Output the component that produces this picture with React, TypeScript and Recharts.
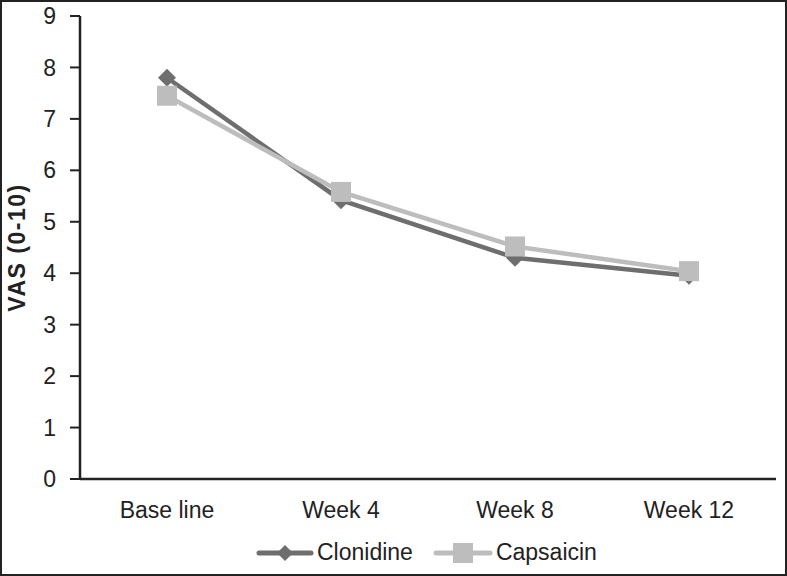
import React from "react";
import { LineChart, Line, XAxis, YAxis, Legend } from "recharts";

const categories = ["Base line", "Week 4", "Week 8", "Week 12"];
const clonidine = [7.8, 5.42, 4.3, 3.95];
const capsaicin = [7.45, 5.58, 4.52, 4.04];
const yTicks = [0, 1, 2, 3, 4, 5, 6, 7, 8, 9];

const data = categories.map((c, i) => ({ name: c, clonidine: clonidine[i], capsaicin: capsaicin[i] }));

const CLON = "#6e6e6e";
const CAPS = "#bdbdbd";
const FONT = "'Liberation Sans', Arial, sans-serif";

const Diamond = (props: any) => {
  const { cx, cy } = props;
  if (cx == null || cy == null) return null;
  const r = 9;
  return <path d={`M${cx},${cy - r}L${cx + r},${cy}L${cx},${cy + r}L${cx - r},${cy}Z`} fill={CLON} />;
};

const Square = (props: any) => {
  const { cx, cy } = props;
  if (cx == null || cy == null) return null;
  const s = 20;
  return <rect x={cx - s / 2} y={cy - s / 2} width={s} height={s} fill={CAPS} />;
};

const YLabel = (props: any) => {
  const vb = props.viewBox || {};
  const cy = (vb.y ?? 16) + (vb.height ?? 463) / 2;
  return (
    <text x={17} y={cy} transform={`rotate(-90, 17, ${cy})`} textAnchor="middle" dominantBaseline="central"
      style={{ fontWeight: "bold", fontSize: 23, fill: "#222", fontFamily: FONT, letterSpacing: 1.5 }}>
      VAS (0-10)
    </text>
  );
};

const LegendContent = () => (
  <div style={{ display: "flex", justifyContent: "flex-start", alignItems: "center", paddingLeft: 256, fontFamily: FONT, fontSize: 23, color: "#222" }}>
    <svg width={58} height={20} style={{ marginRight: 3 }}>
      <line x1={3} y1={10} x2={55} y2={10} stroke={CLON} strokeWidth={5} strokeLinecap="round" />
      <path d="M29,2L37,10L29,18L21,10Z" fill={CLON} />
    </svg>
    <span style={{ marginRight: 20 }}>Clonidine</span>
    <svg width={60} height={22} style={{ marginRight: 3 }}>
      <line x1={3} y1={11} x2={57} y2={11} stroke={CAPS} strokeWidth={5} strokeLinecap="round" />
      <rect x={20} y={1} width={20} height={20} fill={CAPS} />
    </svg>
    <span>Capsaicin</span>
  </div>
);

export default function App() {
  return (
    <div style={{ position: "absolute", left: 0, top: 0, width: 787, height: 576, border: "2px solid #222", boxSizing: "border-box", background: "#fff", overflow: "hidden" }}>
      <div style={{ position: "absolute", left: -2, top: -2 }}>
        <LineChart width={787} height={576} data={data} margin={{ top: 16, right: 11, bottom: 0, left: 0 }}>
          <XAxis
            dataKey="name"
            tickLine={false}
            tickSize={0}
            tickMargin={23}
            height={60}
            padding={{ left: 87, right: 87 }}
            axisLine={{ stroke: "#222", strokeWidth: 2.5 }}
            tick={{ fill: "#222", fontSize: 23, fontFamily: FONT }}
          />
          <YAxis
            domain={[0, 9]}
            ticks={yTicks}
            width={80}
            tickSize={10}
            tickMargin={14}
            axisLine={{ stroke: "#222", strokeWidth: 2.5 }}
            tickLine={{ stroke: "#222", strokeWidth: 2 }}
            tick={{ fill: "#222", fontSize: 23, fontFamily: FONT }}
            label={<YLabel />}
          />
          <Legend verticalAlign="bottom" height={37} wrapperStyle={{ left: 0, width: 787 }} content={<LegendContent />} />
          <Line dataKey="clonidine" stroke={CLON} strokeWidth={4.5} dot={<Diamond />} isAnimationActive={false} />
          <Line dataKey="capsaicin" stroke={CAPS} strokeWidth={4.5} dot={<Square />} isAnimationActive={false} />
        </LineChart>
      </div>
    </div>
  );
}
